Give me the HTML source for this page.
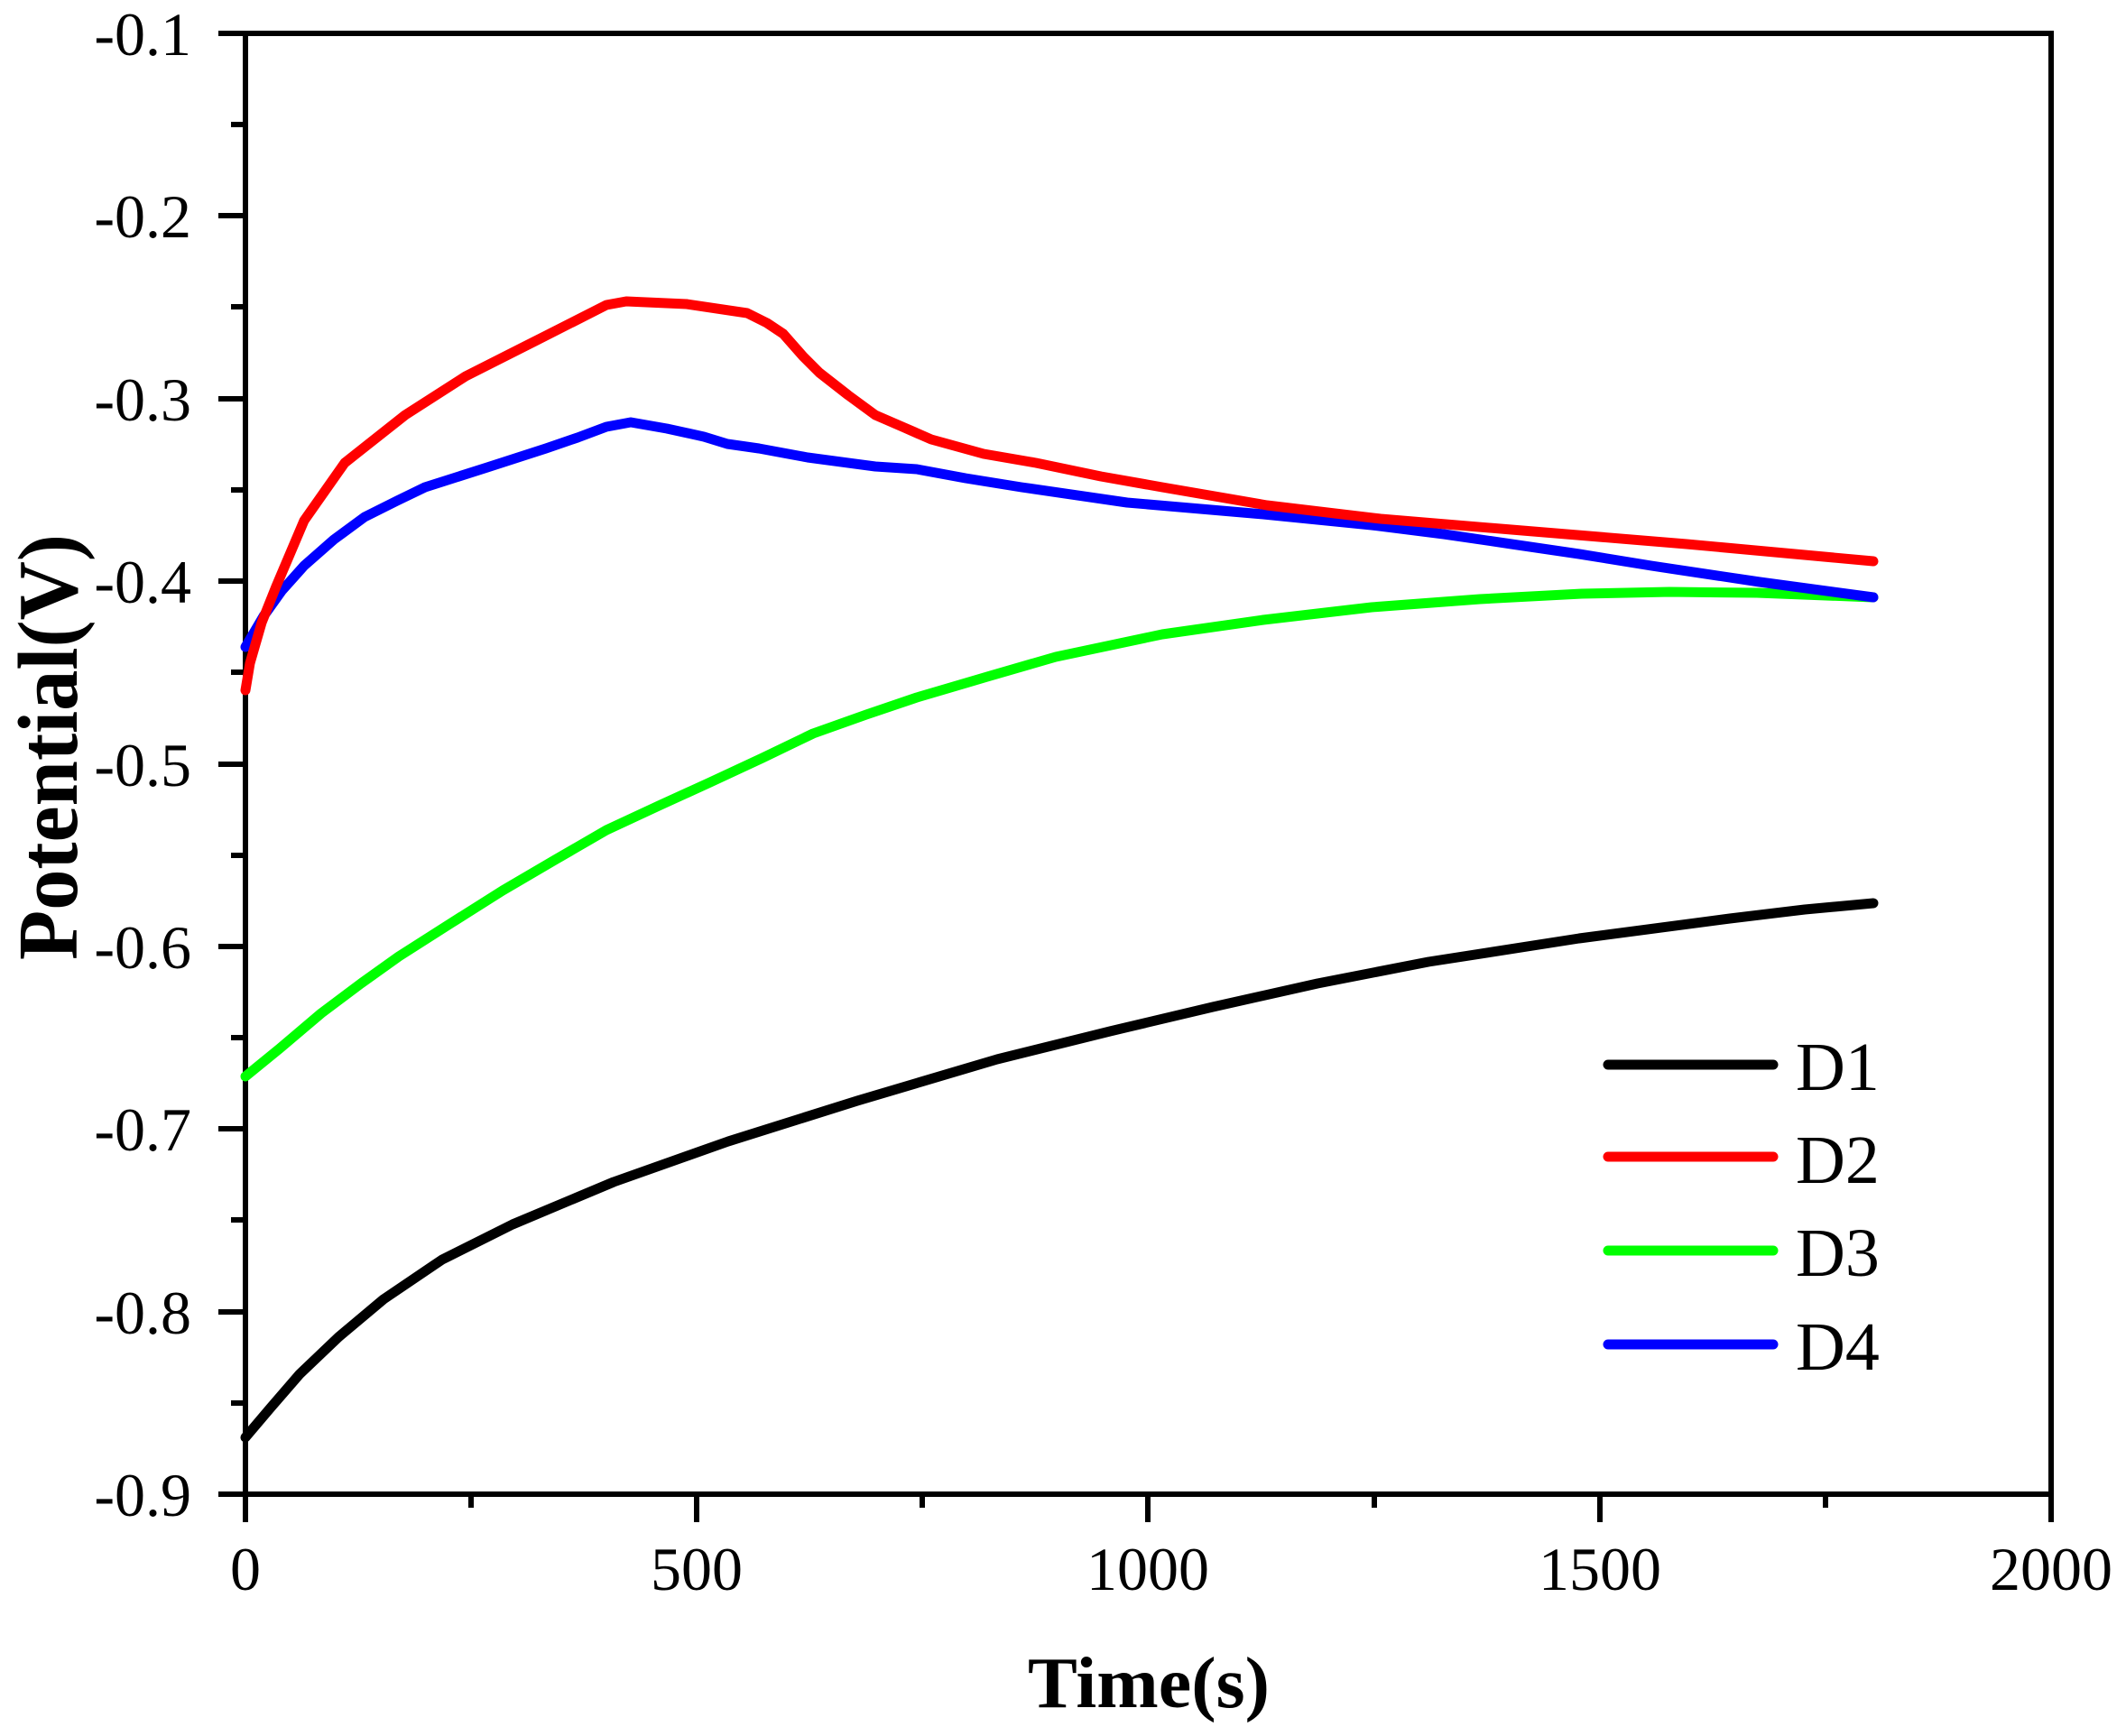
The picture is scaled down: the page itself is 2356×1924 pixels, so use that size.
<!DOCTYPE html>
<html><head><meta charset="utf-8"><style>html,body{margin:0;padding:0;background:#fff}svg{display:block}</style></head>
<body>
<svg width="2356" height="1924" viewBox="0 0 2356 1924" xmlns="http://www.w3.org/2000/svg" font-family="'Liberation Serif', serif">
<rect width="2356" height="1924" fill="#fff"/>
<g stroke="#000" stroke-width="6" fill="none">
<rect x="272" y="37" width="2001" height="1619"/>
<path d="M242 37H272M242 239H272M242 442H272M242 644H272M242 847H272M242 1049H272M242 1251H272M242 1454H272M242 1656H272"/>
<path d="M256 138H272M256 340H272M256 543H272M256 745H272M256 948H272M256 1150H272M256 1352H272M256 1555H272" />
<path d="M272 1656V1687M772 1656V1687M1272 1656V1687M1773 1656V1687M2273 1656V1687"/>
<path d="M522 1656V1671M1022 1656V1671M1523 1656V1671M2023 1656V1671"/>
</g>
<g font-size="68" text-anchor="end" fill="#000">
<text x="212" y="61">-0.1</text>
<text x="212" y="263">-0.2</text>
<text x="212" y="466">-0.3</text>
<text x="212" y="668">-0.4</text>
<text x="212" y="871">-0.5</text>
<text x="212" y="1073">-0.6</text>
<text x="212" y="1275">-0.7</text>
<text x="212" y="1478">-0.8</text>
<text x="212" y="1680">-0.9</text>
</g>
<g font-size="68" text-anchor="middle" fill="#000">
<text x="272" y="1762">0</text>
<text x="772" y="1762">500</text>
<text x="1272" y="1762">1000</text>
<text x="1773" y="1762">1500</text>
<text x="2273" y="1762">2000</text>
</g>
<text x="1139" y="1892" font-size="80" font-weight="bold" textLength="268" lengthAdjust="spacingAndGlyphs">Time(s)</text>
<text transform="translate(85,1064) rotate(-90)" font-size="94" font-weight="bold" textLength="472" lengthAdjust="spacingAndGlyphs">Potential(V)</text>
<g fill="none" stroke-width="11" stroke-linecap="round" stroke-linejoin="round">
<path stroke="#000" d="M272 1593 L300 1560 L332 1523 L375 1482 L425 1440 L490 1396 L568 1357 L680 1310 L807 1265 L950 1220 L1105 1174 L1230 1143 L1344 1116 L1460 1090 L1583 1066 L1750 1040 L1917 1018 L2000 1008 L2076 1001"/>
<path stroke="#00ff00" d="M272 1193 L310 1162 L356 1123 L400 1090 L442 1060 L500 1023 L557 987 L615 953 L672 920 L730 893 L787 867 L845 840 L901 813 L960 792 L1016 773 L1094 750 L1170 728 L1288 703 L1400 687 L1520 673 L1640 664 L1753 658 L1850 656 L1947 657 L2076 662"/>
<path stroke="#0000ff" d="M272 717 L292 683 L312 655 L337 627 L370 598 L404 573 L440 555 L471 540 L540 518 L605 497 L640 485 L672 473 L699 468 L739 475 L780 484 L806 492 L841 497 L895 507 L970 517 L1016 520 L1070 530 L1132 540 L1249 557 L1400 570 L1520 582 L1600 592 L1675 603 L1750 614 L1830 627 L1950 645 L2076 662"/>
<path stroke="#ff0000" d="M272 765 L277 735 L290 690 L306 650 L337 577 L382 513 L449 460 L516 417 L605 372 L672 338 L694 334 L761 337 L828 347 L850 358 L868 370 L890 395 L908 413 L940 438 L970 460 L1000 473 L1032 487 L1090 503 L1148 513 L1220 528 L1288 540 L1404 560 L1530 575 L1675 587 L1869 603 L2076 622"/>
</g>
<g stroke-width="11" stroke-linecap="round">
<line x1="1782" y1="1180" x2="1965" y2="1180" stroke="#000"/>
<line x1="1782" y1="1282" x2="1965" y2="1282" stroke="#ff0000"/>
<line x1="1782" y1="1386" x2="1965" y2="1386" stroke="#00ff00"/>
<line x1="1782" y1="1490" x2="1965" y2="1490" stroke="#0000ff"/>
</g>
<g font-size="76" fill="#000">
<text x="1990" y="1208">D1</text>
<text x="1990" y="1311">D2</text>
<text x="1990" y="1414">D3</text>
<text x="1990" y="1518">D4</text>
</g>
</svg>
</body></html>
